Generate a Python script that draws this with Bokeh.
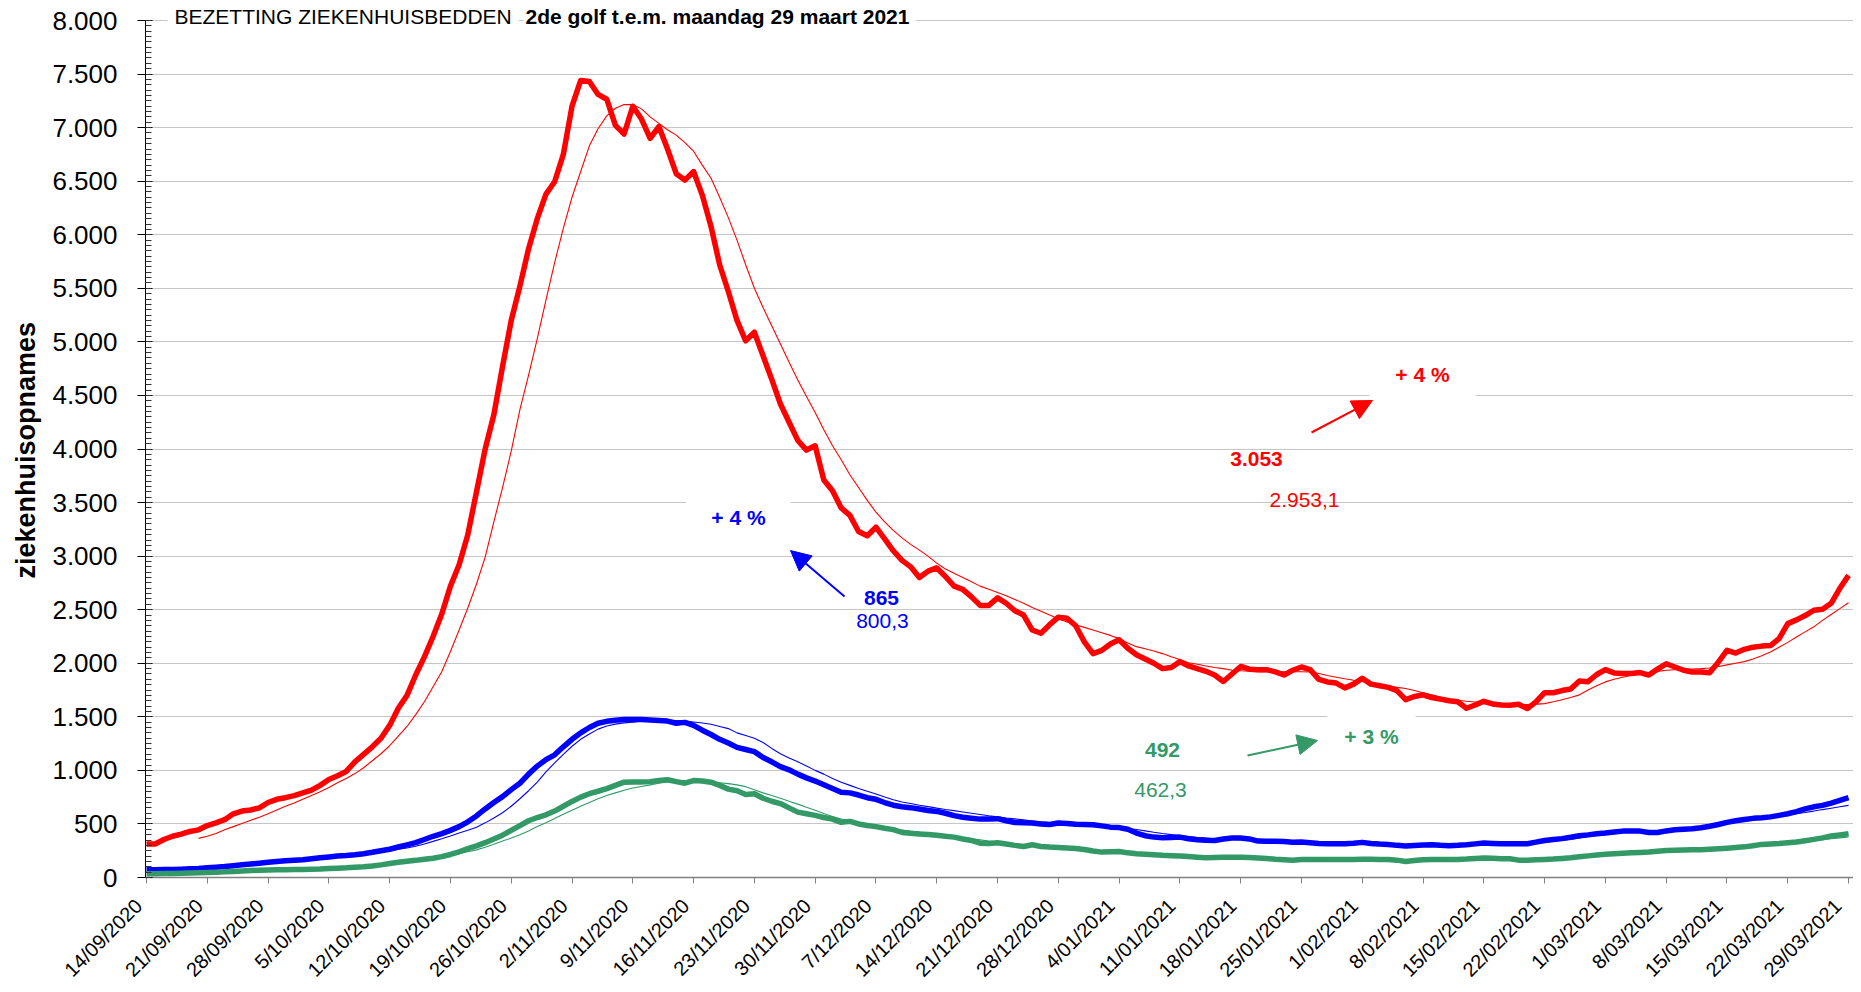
import math
from bokeh.plotting import figure
from bokeh.models import Label, Arrow, NormalHead, FixedTicker, Range1d
from bokeh.embed import file_html
from bokeh.resources import INLINE

# ---------------- data (day 0 = 14/09/2020 ... day 196 = 29/03/2021) ----------------
RED = [
    313, 313, 355, 385, 405, 430, 445, 485, 510, 540,
    595, 620, 630, 650, 700, 730, 745, 765, 790, 815,
    860, 915, 950, 990, 1080, 1150, 1220, 1300, 1420, 1580,
    1700, 1890, 2060, 2250, 2460, 2720, 2920, 3200, 3600, 4000,
    4320, 4770, 5200, 5520, 5870, 6150, 6380, 6495, 6750, 7200,
    7440, 7430, 7310, 7265, 7021, 6940, 7200, 7080, 6900, 7010,
    6800, 6570, 6510, 6590, 6370, 6080, 5720, 5470, 5200, 5010,
    5090, 4870, 4650, 4420, 4250, 4080, 3990, 4030, 3710, 3610,
    3450, 3380, 3230, 3190, 3270, 3160, 3050, 2960, 2900, 2800,
    2860, 2890, 2810, 2720, 2690, 2620, 2540, 2540, 2610, 2560,
    2490, 2450, 2310, 2280, 2360, 2430, 2420, 2350, 2200, 2090,
    2120, 2180, 2220, 2140, 2080, 2040, 2000, 1950, 1960, 2015,
    1975, 1950, 1925, 1890, 1830, 1900, 1970, 1945, 1940, 1940,
    1920, 1890, 1935, 1965, 1940, 1850, 1825, 1815, 1770, 1805,
    1860, 1805, 1790, 1775, 1745, 1660, 1690, 1705, 1680, 1665,
    1650, 1640, 1580, 1610, 1645, 1620, 1610, 1608, 1617, 1577,
    1639, 1725, 1725, 1745, 1760, 1835, 1828, 1895, 1940, 1910,
    1904, 1904, 1913, 1890, 1945, 1995, 1965, 1935, 1919, 1919,
    1912, 2010, 2120, 2095, 2130, 2150, 2160, 2165, 2230, 2370,
    2405, 2445, 2495, 2505, 2560, 2700, 2820]

# moving averages start on day 6
AVG_START = 6
RED_AVG = [
    365, 385, 410, 445,
    475, 505, 535, 563, 595, 630, 665, 695, 730, 765,
    800, 840, 885, 925, 970, 1025, 1090, 1155, 1230, 1320,
    1410, 1520, 1640, 1780, 1920, 2110, 2310, 2516, 2740, 2990,
    3320, 3640, 3980, 4368, 4690, 5030, 5390, 5740, 6060, 6350,
    6590, 6830, 6990, 7110, 7181, 7215, 7215, 7175, 7100, 7040,
    6980, 6930, 6860, 6780, 6650, 6530, 6350, 6160, 5950, 5720,
    5500, 5320, 5150, 4980, 4810, 4645, 4490, 4340, 4180, 4030,
    3900, 3760, 3640, 3520, 3410, 3320, 3240, 3170, 3110, 3056,
    3000, 2935, 2880, 2840, 2800, 2760, 2720, 2690, 2660, 2630,
    2595, 2560, 2520, 2485, 2450, 2415, 2385, 2360, 2335, 2310,
    2285, 2260, 2230, 2190, 2155, 2135, 2115, 2090, 2060, 2035,
    2005, 1990, 1975, 1960, 1950, 1935, 1930, 1925, 1920, 1920,
    1920, 1920, 1920, 1920, 1919, 1905, 1885, 1870, 1855, 1841,
    1830, 1815, 1800, 1790, 1775, 1764, 1745, 1725, 1705, 1685,
    1665, 1655, 1645, 1638, 1630, 1625, 1620, 1616, 1614, 1615,
    1618, 1623, 1640, 1660, 1680, 1705, 1750, 1790, 1826, 1850,
    1870, 1888, 1900, 1912, 1924, 1935, 1940, 1944, 1947, 1950,
    1955, 1970, 1985, 2000, 2015, 2040, 2070, 2105, 2150, 2195,
    2245, 2293, 2340, 2400, 2455, 2510, 2565]

BLUE = [
    72, 73, 74, 75, 78, 81, 84, 90, 96, 102,
    110, 118, 126, 134, 142, 150, 156, 161, 166, 175,
    184, 192, 200, 205, 212, 222, 235, 250, 264, 285,
    305, 325, 355, 385, 410, 440, 475, 520, 575, 640,
    700, 755, 820, 880, 965, 1040, 1100, 1145, 1220, 1290,
    1350, 1400, 1440, 1458, 1468, 1474, 1475, 1474, 1470, 1465,
    1460, 1440, 1448, 1420, 1375, 1335, 1290, 1255, 1215, 1195,
    1175, 1120, 1080, 1035, 1005, 965, 930, 900, 865, 830,
    795, 790, 770, 745, 730, 700, 675, 660, 652, 640,
    625, 617, 600, 578, 562, 553, 545, 546, 549, 530,
    514, 510, 508, 500, 494, 508, 505, 498, 495, 493,
    482, 470, 466, 450, 415, 390, 377, 372, 374, 377,
    362, 352, 347, 346, 360, 368, 368, 360, 340, 339,
    338, 336, 330, 331, 325, 318, 315, 315, 315, 320,
    328, 318, 312, 309, 300, 293, 298, 304, 306, 300,
    296, 300, 306, 314, 321, 318, 315, 315, 315, 315,
    330, 346, 355, 363, 375, 390, 398, 408, 415, 424,
    433, 433, 433, 420, 420, 435, 445, 450, 455, 465,
    478, 495, 515, 530, 542, 552, 558, 566, 580, 595,
    615, 640, 660, 673, 695, 720, 745]

BLUE_AVG = [
    80, 85, 90, 96,
    102, 109, 116, 123, 130, 137, 143, 148, 153, 162,
    170, 178, 186, 194, 203, 215, 228, 241, 250, 265,
    275, 292, 313, 337, 362, 388, 415, 442, 470, 510,
    555, 605, 665, 735, 810, 890, 985, 1070, 1150, 1225,
    1290, 1340, 1385, 1415, 1432, 1443, 1450, 1458, 1462, 1465,
    1467, 1465, 1460, 1452, 1442, 1430, 1410, 1390, 1350, 1325,
    1300, 1260, 1205, 1155, 1115, 1080, 1040, 1000, 965, 925,
    890, 860, 830, 805, 780, 752, 725, 705, 690, 675,
    662, 648, 635, 624, 612, 600, 588, 576, 566, 556,
    547, 538, 528, 519, 512, 506, 500, 497, 495, 493,
    485, 475, 465, 457, 448, 435, 422, 410, 400, 390,
    382, 374, 368, 362, 358, 355, 353, 350, 347, 344,
    341, 338, 333, 330, 327, 324, 322, 321, 321, 320,
    318, 316, 314, 311, 308, 306, 306, 306, 306, 306,
    306, 307, 307, 308, 309, 310, 311, 313, 316, 319,
    323, 330, 338, 348, 358, 370, 382, 393, 404, 412,
    419, 425, 429, 433, 438, 443, 448, 452, 458, 467,
    478, 492, 505, 517, 528, 539, 549, 560, 572, 584,
    595, 607, 620, 634, 647, 660, 673]

GREEN = [
    35, 36, 37, 38, 40, 42, 44, 47, 50, 53,
    57, 61, 65, 68, 70, 72, 73, 74, 75, 77,
    79, 83, 87, 90, 95, 100, 108, 118, 130, 142,
    152, 160, 170, 180, 195, 215, 240, 270, 295, 325,
    360, 395, 440, 485, 530, 560, 585, 620, 665, 710,
    750, 782, 805, 829, 860, 890, 892, 891, 895, 905,
    913, 895, 880, 905, 900, 890, 860, 825, 810, 775,
    782, 740, 712, 690, 650, 610, 595, 580, 560, 545,
    515, 524, 500, 485, 475, 460, 447, 420, 412, 405,
    402, 395, 385, 377, 360, 346, 320, 318, 324, 312,
    300, 290, 306, 290, 284, 280, 275, 270, 262, 248,
    237, 240, 243, 230, 222, 218, 212, 207, 204, 200,
    197, 190, 184, 186, 188, 190, 190, 186, 182, 178,
    170, 165, 160, 168, 169, 169, 169, 169, 169, 169,
    170, 170, 169, 169, 162, 150, 158, 166, 167, 168,
    169, 169, 172, 177, 181, 179, 176, 175, 162, 160,
    165, 169, 172, 178, 184, 193, 202, 210, 217, 222,
    226, 230, 234, 237, 245, 253, 255, 256, 258, 259,
    263, 268, 274, 280, 286, 297, 309, 313, 318, 325,
    331, 343, 356, 370, 387, 398, 409]

GREEN_AVG = [
    40, 42, 44, 47,
    50, 53, 56, 59, 62, 64, 65, 66, 66, 70,
    75, 80, 85, 90, 95, 102, 110, 118, 125, 132,
    145, 158, 168, 178, 188, 205, 222, 240, 258, 282,
    310, 340, 368, 400, 435, 475, 512, 550, 590, 628,
    665, 700, 735, 765, 790, 815, 835, 850, 865, 880,
    891, 899, 905, 907, 900, 893, 885, 876, 865, 848,
    820, 790, 765, 740, 712, 685, 655, 627, 598, 570,
    545, 530, 512, 495, 480, 466, 454, 444, 433, 424,
    414, 404, 394, 384, 373, 362, 351, 340, 330, 320,
    310, 300, 293, 287, 281, 275, 268, 262, 256, 250,
    245, 240, 234, 228, 224, 220, 215, 210, 205, 202,
    199, 195, 192, 189, 186, 184, 181, 179, 177, 175,
    172, 168, 165, 163, 165, 166, 167, 168, 168, 168,
    168, 168, 167, 165, 163, 162, 163, 164, 165, 166,
    167, 168, 170, 172, 173, 174, 173, 171, 169, 168,
    168, 169, 171, 174, 179, 186, 193, 200, 207, 214,
    220, 226, 231, 236, 241, 246, 250, 254, 258, 262,
    266, 271, 276, 282, 288, 294, 301, 308, 315, 322,
    330, 338, 346, 354, 362, 370, 378]

X_TICK_LABELS = [
    "14/09/2020", "21/09/2020", "28/09/2020", "5/10/2020", "12/10/2020",
    "19/10/2020", "26/10/2020", "2/11/2020", "9/11/2020", "16/11/2020",
    "23/11/2020", "30/11/2020", "7/12/2020", "14/12/2020", "21/12/2020",
    "28/12/2020", "4/01/2021", "11/01/2021", "18/01/2021", "25/01/2021",
    "1/02/2021", "8/02/2021", "15/02/2021", "22/02/2021", "1/03/2021",
    "8/03/2021", "15/03/2021", "22/03/2021", "29/03/2021"]
Y_TICKS = [0, 500, 1000, 1500, 2000, 2500, 3000, 3500, 4000,
           4500, 5000, 5500, 6000, 6500, 7000, 7500, 8000]
Y_TICK_LABELS = ["0", "500", "1.000", "1.500", "2.000", "2.500", "3.000", "3.500", "4.000",
                 "4.500", "5.000", "5.500", "6.000", "6.500", "7.000", "7.500", "8.000"]

TITLE_REGULAR = "BEZETTING ZIEKENHUISBEDDEN"
TITLE_BOLD = "2de golf t.e.m. maandag 29 maart 2021"
Y_LABEL = "ziekenhuisopnames"

RED_LAST, RED_LAST_AVG, RED_PCT = "3.053", "2.953,1", "+ 4 %"
BLUE_LAST, BLUE_LAST_AVG, BLUE_PCT = "865", "800,3", "+ 4 %"
GREEN_LAST, GREEN_LAST_AVG, GREEN_PCT = "492", "462,3", "+ 3 %"

C_RED, C_BLUE, C_GREEN = "#FF0000", "#0000FF", "#339966"
FONT = "Liberation Sans"
NBSP = "\u00a0"

days = list(range(len(RED)))
avg_days = days[AVG_START:]

# Frame reaches the top of the canvas (room for the title inside it);
# the value axis itself is bounded to 0..8000.
p = figure(frame_width=1708, frame_height=877, output_backend="svg", toolbar_location=None,
           x_range=Range1d(-0.115, 196.57), y_range=Range1d(0, 8186.7),
           min_border_left=145, min_border_top=0, min_border_right=0, min_border_bottom=0)
p.outline_line_color = None
p.xgrid.grid_line_color = None
p.ygrid.grid_line_color = "#c6c6c6"
p.ygrid.grid_line_width = 1
p.ygrid.ticker = FixedTicker(ticks=Y_TICKS)

ya = p.yaxis[0]
ya.bounds = (0, 8000)
ya.ticker = FixedTicker(ticks=Y_TICKS, minor_ticks=list(range(0, 8001, 50)))
ya.major_label_overrides = {t: l for t, l in zip(Y_TICKS, Y_TICK_LABELS)}
ya.major_label_text_font = FONT
ya.major_label_text_font_size = "26px"
ya.major_label_text_color = "black"
ya.major_label_standoff = 20
ya.axis_line_color = "black"
ya.major_tick_line_color = "black"
ya.major_tick_in = 7
ya.major_tick_out = 8
ya.minor_tick_line_color = "#333333"
ya.minor_tick_in = 6
ya.minor_tick_out = 0
# trailing no-break spaces move the centred label down onto the 0..8000 span
ya.axis_label = Y_LABEL + NBSP * 3
ya.axis_label_text_font = FONT
ya.axis_label_text_font_style = "bold"
ya.axis_label_text_font_size = "27px"
ya.axis_label_text_color = "black"
ya.axis_label_standoff = 8

xa = p.xaxis[0]
week_ticks = [7 * i for i in range(len(X_TICK_LABELS))]
xa.ticker = FixedTicker(ticks=week_ticks)
# two trailing no-break spaces slide each slanted label down-left so it ends at its tick
xa.major_label_overrides = {t: l + NBSP * 2 for t, l in zip(week_ticks, X_TICK_LABELS)}
xa.major_label_orientation = math.pi / 4
xa.major_label_text_font = FONT
xa.major_label_text_font_size = "20px"
xa.major_label_text_color = "black"
xa.major_label_standoff = 11
xa.axis_line_color = "#808080"
xa.axis_line_width = 1.5
xa.major_tick_line_color = "#808080"
xa.major_tick_in = 0
xa.major_tick_out = 6
xa.minor_tick_line_color = None

# thick daily series
p.line(days, RED, line_color=C_RED, line_width=5.5, line_join="round")
p.line(days, BLUE, line_color=C_BLUE, line_width=5.5, line_join="round")
p.line(days, GREEN, line_color=C_GREEN, line_width=5.5, line_join="round")
# thin moving averages
p.line(avg_days, RED_AVG, line_color=C_RED, line_width=1.1)
p.line(avg_days, BLUE_AVG, line_color=C_BLUE, line_width=1.1)
p.line(avg_days, GREEN_AVG, line_color=C_GREEN, line_width=1.1)

# title
p.add_layout(Label(x=2.42, y=8037, text=TITLE_REGULAR, text_font=FONT, text_font_size="21px",
                   text_baseline="middle", text_color="black", background_fill_color="white",
                   padding=dict(left=7, right=7, top=2, bottom=2)))
p.add_layout(Label(x=43.41, y=8037, text=TITLE_BOLD, text_font=FONT, text_font_size="21px",
                   text_font_style="bold", text_baseline="middle", text_color="black",
                   background_fill_color="white", padding=dict(left=2, right=6, top=2, bottom=2)))


def tag(x, y, text, color, bold, pad=None):
    kw = dict(x=x, y=y, text=text, text_font=FONT, text_font_size="21px",
              text_font_style="bold" if bold else "normal", text_color=color,
              text_align="center", text_baseline="middle")
    if pad is not None:
        kw.update(background_fill_color="white", padding=pad)
    p.add_layout(Label(**kw))


def arrow(x0, y0, x1, y1, color):
    p.add_layout(Arrow(x_start=x0, y_start=y0, x_end=x1, y_end=y1, line_color=color, line_width=2,
                       end=NormalHead(size=20, fill_color=color, line_color=color, line_width=1)))


# red annotations
tag(146.94, 4667, RED_PCT, C_RED, True, dict(left=26, right=26, top=4, bottom=10))
tag(127.82, 3902, RED_LAST, C_RED, True, dict(left=18, right=18, top=1, bottom=1))
tag(133.35, 3528, RED_LAST_AVG, C_RED, False)
arrow(134.16, 4154, 141.18, 4453, C_RED)
# blue annotations
tag(68.17, 3360, BLUE_PCT, C_BLUE, True, dict(left=25, right=25, top=4, bottom=4))
tag(84.64, 2609, BLUE_LAST, C_BLUE, True, dict(left=9, right=9, top=1, bottom=2))
tag(84.75, 2390, BLUE_LAST_AVG, C_BLUE, False)
arrow(80.38, 2623, 74.16, 3052, C_BLUE)
# green annotations
tag(141.06, 1349, GREEN_PCT, C_GREEN, True, dict(left=17, right=17, top=9, bottom=2))
tag(117.0, 1153, GREEN_LAST, C_GREEN, True, dict(left=9, right=9, top=2, bottom=9))
tag(116.77, 821, GREEN_LAST_AVG, C_GREEN, False)
arrow(126.79, 1139, 134.85, 1279, C_GREEN)

open("out.html", "w").write(file_html(p, INLINE))
